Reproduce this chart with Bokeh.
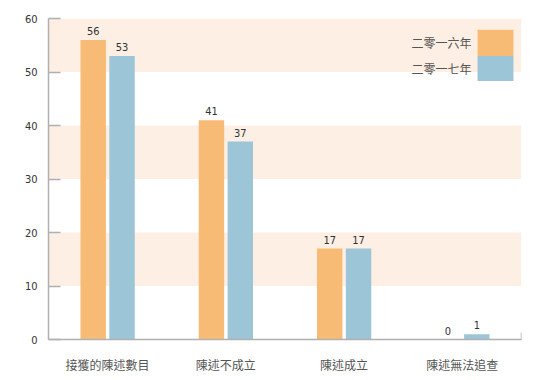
from bokeh.plotting import figure
from bokeh.models import Range1d, FixedTicker, Label, ColumnDataSource
from bokeh.embed import file_html
from bokeh.resources import INLINE
from bokeh.core.properties import value

categories = ["接獲的陳述數目", "陳述不成立", "陳述成立", "陳述無法追查"]
series_names = ["二零一六年", "二零一七年"]
values_2016 = [56, 41, 17, 0]
values_2017 = [53, 37, 17, 1]
band_bottoms = [10, 30, 50]

ORANGE = "#f7bb76"
BLUE = "#9cc6d8"
BAND = "#fdefe3"
TXT = "#555555"
NUMFONT = "'DejaVu Sans Condensed', 'Liberation Sans Narrow', 'Liberation Sans', sans-serif"
CJK = "Noto Sans CJK TC"

p = figure(width=560, height=380, output_backend="svg", toolbar_location=None,
           x_range=Range1d(0, len(categories)), y_range=Range1d(0, 60),
           min_border_left=48, min_border_right=39, min_border_top=18, min_border_bottom=41)
p.outline_line_color = None
p.grid.visible = False
p.background_fill_color = "white"

# bands
p.quad(left=0, right=len(categories), bottom=band_bottoms, top=[b + 10 for b in band_bottoms],
       fill_color=BAND, line_color=None)

xs = [i + 0.5 for i in range(len(categories))]
off = 0.122
w = 0.215
src1 = ColumnDataSource(dict(x=[x - off for x in xs], top=values_2016, lab=[str(v) for v in values_2016]))
src2 = ColumnDataSource(dict(x=[x + off for x in xs], top=values_2017, lab=[str(v) for v in values_2017]))
p.vbar(x="x", top="top", width=w, source=src1, fill_color=ORANGE, line_color=None)
p.vbar(x="x", top="top", width=w, source=src2, fill_color=BLUE, line_color=None)
for s in (src1, src2):
    p.text(x="x", y="top", text="lab", source=s, text_align="center", text_baseline="bottom",
           y_offset=-5, text_font=value(NUMFONT), text_font_size="11px", text_color="#333333")

# axes
p.yaxis.ticker = FixedTicker(ticks=list(range(0, 61, 10)))
p.yaxis.major_tick_in = 12
p.yaxis.major_tick_out = 0
p.yaxis.minor_tick_line_color = None
p.yaxis.axis_line_color = "#b0b0b0"
p.yaxis.axis_line_width = 1.5
p.yaxis.major_tick_line_color = "#b0b0b0"
p.yaxis.major_tick_line_width = 1.5
p.yaxis.major_label_text_font = NUMFONT
p.yaxis.major_label_text_font_size = "11px"
p.yaxis.major_label_text_color = "#333333"
p.yaxis.major_label_standoff = 11

p.xaxis.ticker = FixedTicker(ticks=xs)
p.xaxis.major_label_overrides = {x: c for x, c in zip(xs, categories)}
p.xaxis.major_tick_line_color = None
p.xaxis.minor_tick_line_color = None
p.xaxis.axis_line_color = "#b0b0b0"
p.xaxis.axis_line_width = 1.5
p.xaxis.major_label_text_font = CJK
p.xaxis.major_label_text_font_size = "12px"
p.xaxis.major_label_text_color = TXT
p.xaxis.major_label_standoff = 10

# right end tick of x axis
p.segment(x0=[len(categories)], y0=[0], x1=[len(categories)], y1=[1.3], line_color="#b0b0b0", line_width=1.5)

# legend (manual, label left of swatch)
lx0, lx1 = 3.628, 3.932
p.quad(left=[lx0, lx0], right=[lx1, lx1], top=[57.9, 53.0], bottom=[53.0, 48.3],
       fill_color=[ORANGE, BLUE], line_color=None)
for name, yv in zip(series_names, [55.45, 50.65]):
    p.add_layout(Label(x=lx0, y=yv, x_offset=-6, text=name, text_align="right", text_baseline="middle",
                       text_font=CJK, text_font_size="12px", text_color=TXT))

open("out.html", "w").write(file_html(p, INLINE))
